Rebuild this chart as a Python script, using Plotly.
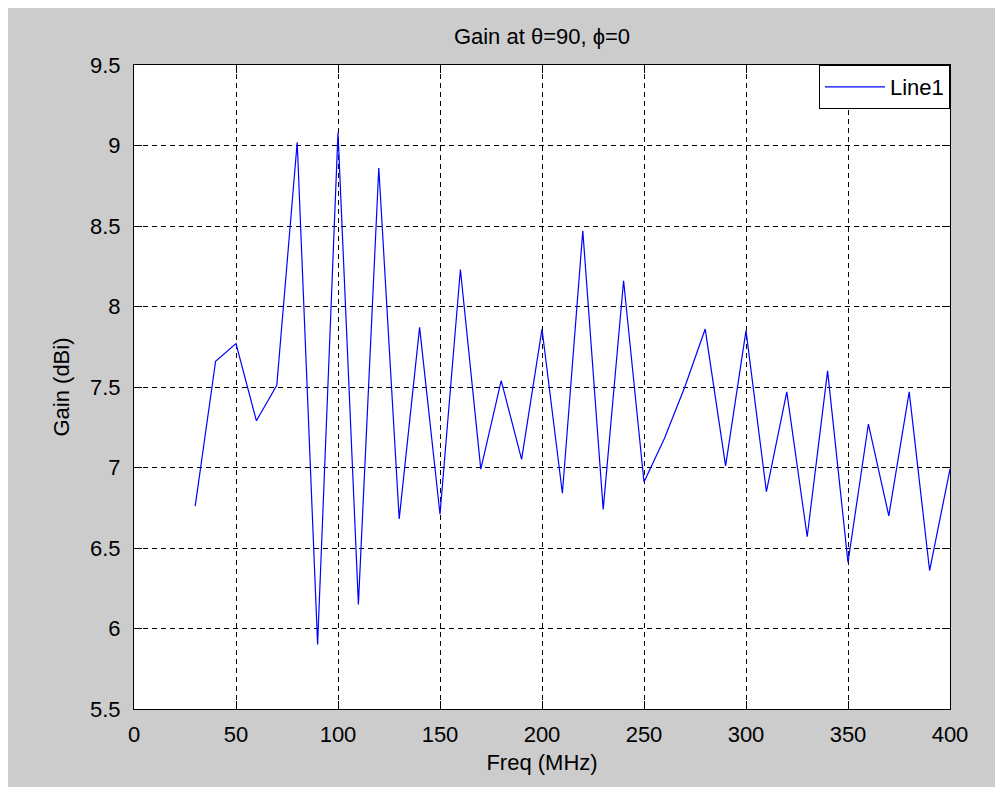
import plotly.graph_objects as go

freq = [30, 40, 50, 60, 70, 80, 90, 100, 110, 120, 130, 140, 150, 160, 170, 180, 190, 200,
        210, 220, 230, 240, 250, 260, 270, 280, 290, 300, 310, 320, 330, 340, 350, 360,
        370, 380, 390, 400]
gain = [6.76, 7.66, 7.77, 7.29, 7.51, 9.02, 5.90, 9.08, 6.15, 8.86, 6.68, 7.87, 6.71, 8.23,
        6.99, 7.54, 7.05, 7.86, 6.84, 8.47, 6.74, 8.16, 6.91, 7.18, 7.50, 7.86, 7.01, 7.85,
        6.85, 7.47, 6.57, 7.60, 6.41, 7.27, 6.70, 7.47, 6.36, 6.99]

x_ticks = [0, 50, 100, 150, 200, 250, 300, 350, 400]
y_ticks = [5.5, 6, 6.5, 7, 7.5, 8, 8.5, 9, 9.5]
y_ticklabels = ["5.5", "6", "6.5", "7", "7.5", "8", "8.5", "9", "9.5"]

# page has an 8px body margin; figure sized so it fills the window
W, H = 995, 779
L, T = 126, 57
PW, PH = 816, 644
R, B = W - L - PW, H - T - PH

FONT = "Liberation Sans"
FS = 22
fig = go.Figure()
fig.add_trace(go.Scatter(x=freq, y=gain, mode="lines", name="Line1",
                         line=dict(color="#0000ff", width=1.2)))

axis_common = dict(showline=True, linecolor="black", linewidth=1, mirror="ticks",
                   ticks="inside", ticklen=8, tickcolor="black", tickwidth=1,
                   showgrid=True, gridcolor="black", gridwidth=1, griddash="5px,4px",
                   zeroline=False, tickfont=dict(family=FONT, size=FS, color="black"))

fig.update_xaxes(range=[0, 400], tickvals=x_ticks, ticktext=[str(v) for v in x_ticks],
                 ticklabelstandoff=6,
                 title=dict(text="Freq (MHz)", font=dict(family=FONT, size=FS, color="black"), standoff=8),
                 **axis_common)
fig.update_yaxes(range=[5.5, 9.5], tickvals=y_ticks, ticktext=y_ticklabels,
                 ticklabelstandoff=8,
                 title=dict(text="Gain (dBi)", font=dict(family=FONT, size=FS, color="black"), standoff=14),
                 **axis_common)

fig.update_layout(
    width=W, height=H,
    margin=dict(l=L, r=R, t=T, b=B, autoexpand=False),
    paper_bgcolor="#cccccc", plot_bgcolor="white",
    title=dict(text="Gain at θ=90, ϕ=0", x=(L + PW / 2) / W, xanchor="center",
               y=1 - 28 / H, yanchor="middle",
               font=dict(family=FONT, size=FS, color="black")),
    showlegend=True,
    legend=dict(x=1, y=1, xanchor="right", yanchor="top", bgcolor="white",
                bordercolor="black", borderwidth=1,
                font=dict(family=FONT, size=FS, color="black"),
                itemwidth=60),
)

fig.write_html("out.html")
